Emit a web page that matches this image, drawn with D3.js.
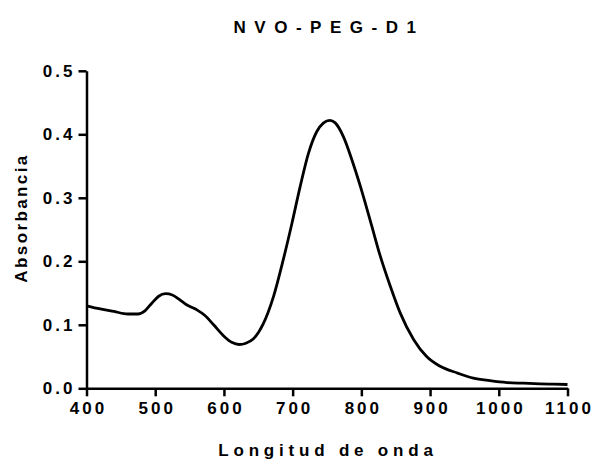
<!DOCTYPE html>
<html>
<head>
<meta charset="utf-8">
<script src="https://cdn.jsdelivr.net/npm/d3@7"></script>
<style>
  body { margin: 0; background: #fff; }
  text { font-family: "Liberation Sans", Arial, sans-serif; font-weight: bold; fill: #000; }
</style>
</head>
<body>
<div id="the_chart"></div>
<script>
// spectrum
var wavelength = [400, 420, 440, 460, 475, 485, 495, 505, 515, 525, 535, 545, 560, 572, 585,
    600, 612, 622, 632, 643, 657, 672, 686, 699, 711, 723, 735, 745, 754, 762, 774,
    788, 803, 815, 827, 842, 856, 876, 895, 914, 940, 963, 987, 1012, 1036, 1060, 1080, 1100];
var absorbance = [0.130, 0.125, 0.121, 0.117, 0.117, 0.122, 0.134, 0.145, 0.149, 0.147, 0.140, 0.132, 0.124, 0.115, 0.100,
    0.082, 0.072, 0.069, 0.071, 0.078, 0.101, 0.144, 0.201, 0.260, 0.318, 0.370, 0.404, 0.418, 0.422, 0.418, 0.396,
    0.354, 0.302, 0.256, 0.210, 0.161, 0.120, 0.077, 0.050, 0.035, 0.024, 0.016, 0.012, 0.009, 0.008, 0.007, 0.0065, 0.006];
var xTicks = [400, 500, 600, 700, 800, 900, 1000, 1100];
var yTicks = [0.0, 0.1, 0.2, 0.3, 0.4, 0.5];

var w = 593;
var h = 462;

var svg = d3.select("#the_chart")
    .append("svg")
    .attr("width", w)
    .attr("height", h);

var xscale = d3.scaleLinear()
    .domain([400, 1100])
    .range([86.5, 567.5]);

var yscale = d3.scaleLinear()
    .domain([0, 0.5])
    .range([388.3, 70.8]);

var xaxis = d3.axisBottom()
    .scale(xscale)
    .tickValues(xTicks)
    .tickFormat(d3.format("d"))
    .tickSize(8)
    .tickSizeOuter(0)
    .tickPadding(6);

var yaxis = d3.axisLeft()
    .scale(yscale)
    .tickValues(yTicks)
    .tickFormat(d3.format(".1f"))
    .tickSize(8)
    .tickSizeOuter(0)
    .tickPadding(6);

var gX = svg.append("g")
    .attr("transform", "translate(0," + yscale(0) + ")")
    .call(xaxis);

var gY = svg.append("g")
    .attr("transform", "translate(" + xscale(400) + ",0)")
    .call(yaxis);

[gX, gY].forEach(function (g) {
    g.selectAll("path, line")
        .attr("stroke", "#000")
        .attr("stroke-width", 2.5);
    g.selectAll("text")
        .style("font-size", "17px")
        .style("letter-spacing", "3px");
});
gX.selectAll("text").attr("dx", 1.5);
gY.selectAll("text").attr("dx", 3);

var line = d3.line()
    .x(function (d, i) { return xscale(wavelength[i]); })
    .y(function (d) { return yscale(d); })
    .curve(d3.curveMonotoneX);

svg.append("path")
    .datum(absorbance)
    .attr("d", line)
    .attr("fill", "none")
    .attr("stroke", "#000")
    .attr("stroke-width", 2.8);

svg.append("text")
    .attr("x", 329)
    .attr("y", 33)
    .attr("text-anchor", "middle")
    .style("font-size", "17px")
    .style("letter-spacing", "8.5px")
    .text("NVO-PEG-D1");

svg.append("text")
    .attr("x", 328)
    .attr("y", 456)
    .attr("text-anchor", "middle")
    .style("font-size", "17px")
    .style("letter-spacing", "4.8px")
    .text("Longitud de onda");

svg.append("text")
    .attr("transform", "translate(27,218) rotate(-90)")
    .attr("text-anchor", "middle")
    .style("font-size", "17px")
    .style("letter-spacing", "2.4px")
    .text("Absorbancia");
</script>
</body>
</html>
